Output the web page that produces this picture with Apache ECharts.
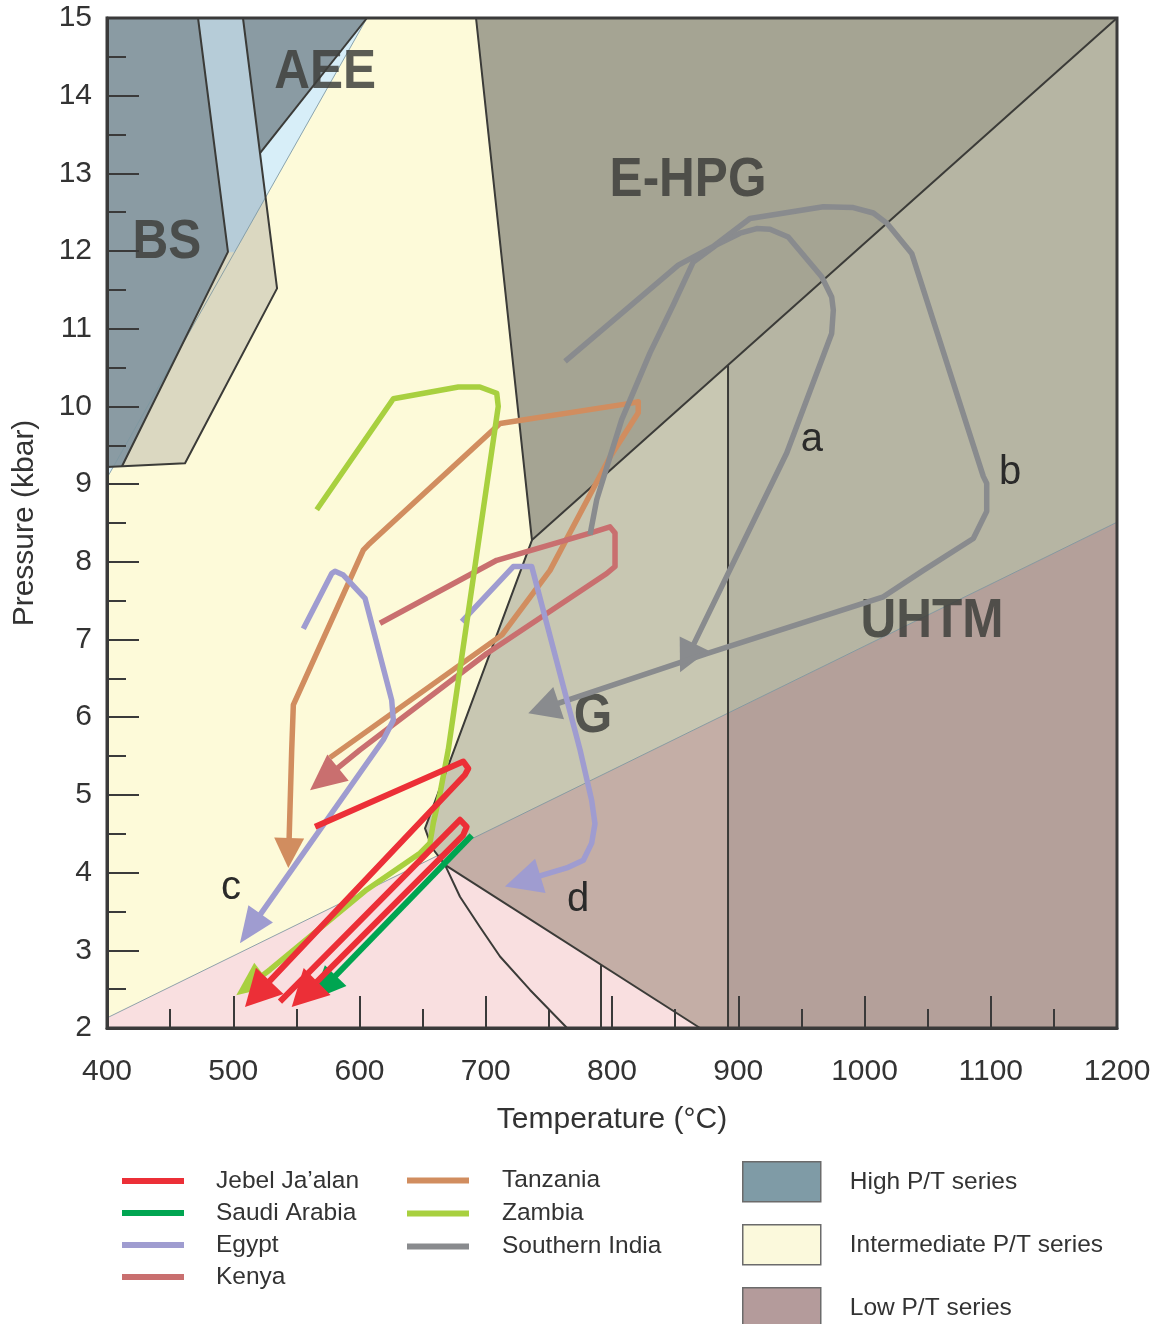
<!DOCTYPE html>
<html><head><meta charset="utf-8">
<script src="https://cdn.jsdelivr.net/npm/echarts@6/dist/echarts.min.js"></script>
<style>html,body{margin:0;padding:0;background:#fff}#c{width:1158px;height:1324px}</style>
</head><body><div id="c"></div>
<script>
const FONT = '"Liberation Sans", Arial, Helvetica, sans-serif';

// ---- axis ranges (°C, kbar) ----
const tempRange = [400, 1200];
const presRange = [2, 15];

// ---- facies fields, vertices as [T (°C), P (kbar)] ----
const intermediateRegion = [[400,2],[1200,2],[1200,15],[400,15]];
const highPTOverlay = [[400,15],[605.9,15],[400,9.08]];
const transitionBand = [[525.6,12.69],[534.7,11.52],[461.8,9.27],[411.9,9.23],[495.8,11.99],[501.2,11.99]];
const lightBlueBand = [[472.1,15],[507.7,15],[525.6,12.69],[501.2,11.99],[495.8,11.99]];
const bsRegion = [[400,15],[472.1,15],[495.8,11.99],[411.9,9.23],[400,9.23]];
const aeeRegion = [[507.7,15],[605.9,15],[521.2,13.26]];
const ehpgRegion = [[692.3,15],[1200,15],[736.6,8.28]];
const gRegion = [[736.6,8.28],[891.9,10.53],[891.9,6.05],[662.1,4.22],[657.4,4.32],[651.9,4.57]];
const gUhtmRegion = [[891.9,10.53],[1200,15],[1200,8.51],[891.9,6.05]];
const lowPinkRegion = [[400,2],[400,2.13],[662.1,4.22],[667.7,4.10],[869.7,2]];
const lowBrownRegion = [[662.1,4.22],[891.9,6.05],[891.9,2],[869.7,2],[667.7,4.10]];
const lowUhtmRegion = [[891.9,6.05],[1200,8.51],[1200,2],[891.9,2]];

// ---- boundary lines ----
const faintLines = [
  [[400,2.13],[1200,8.51]],
  [[605.9,15],[400,9.08]]
];
const darkLines = [
  [[692.3,15],[736.6,8.28],[651.9,4.57],[657.4,4.32],[667.7,4.10]],
  [[736.6,8.28],[1200,15]],
  [[891.9,10.53],[891.9,2]],
  [[667.7,4.10],[869.7,2]],
  [[667.7,4.10],[679.6,3.69],[695.4,3.30],[711.3,2.92],[735.1,2.49],[764.4,2]],
  [[791.3,2.81],[791.3,2]],
  [[472.1,15],[495.8,11.99],[411.9,9.23]],
  [[507.7,15],[534.7,11.52],[461.8,9.27],[400,9.22]],
  [[605.9,15],[521.2,13.26]]
];

// ---- P-T paths [T, P]; last point = arrow tip ----
const pathJebel1 = [[564.8,4.59],[682.2,5.43],[686.2,5.34],[683.6,5.26],[509.3,2.27]];
const pathJebel2 = [[537.0,2.34],[679.6,4.68],[684.9,4.59],[682.0,4.48],[546.3,2.27]];
const pathSaudi = [[688.9,4.48],[562.4,2.36]];
const pathEgyptC = [[555.5,7.14],[578.0,7.85],[580.6,7.88],[587.2,7.83],[604.4,7.53],[625.5,6.22],[626.8,5.96],[618.9,5.71],[505.3,3.09]];
const pathEgyptD = [[681.0,7.23],[721.8,7.94],[736.4,7.94],[774.7,5.58],[783.9,4.93],[786.5,4.63],[783.9,4.38],[777.3,4.16],[764.1,4.06],[745.6,3.97],[715.2,3.82]];
const pathKenya = [[616.2,7.21],[708.7,8.02],[782.6,8.37],[798.4,8.45],[802.4,8.37],[802.4,7.94],[795.8,7.85],[700.8,6.82],[600.4,5.58],[560.8,5.06]];
const pathTanzania = [[576.6,5.48],[712.9,7.06],[750.9,7.89],[798.4,9.35],[820.8,9.92],[820.8,10.06],[814.3,10.04],[711.3,9.78],[607.0,8.22],[603.0,8.15],[547.6,6.16],[546.3,5.58],[543.6,4.06]];
const pathZambia = [[566.1,8.67],[626.8,10.10],[678.3,10.25],[695.4,10.25],[708.7,10.17],[709.9,10.00],[670.3,5.58],[663.8,5.02],[658.5,4.64],[655.8,4.38],[647.9,4.25],[605.7,3.78],[529.1,2.75],[502.4,2.42]];
const pathIndiaA = [[782.6,8.35],[787.9,8.80],[798.4,9.35],[807.7,9.83],[830.1,10.69],[848.6,11.31],[864.4,11.86],[882.9,12.08],[901.4,12.23],[914.6,12.29],[925.1,12.28],[939.6,12.18],[966.1,11.67],[974.0,11.41],[975.3,11.24],[974.0,10.94],[938.4,9.40],[853.9,6.58]];
const pathIndiaB = [[762.8,10.58],[852.5,11.82],[880.2,12.06],[909.3,12.42],[967.4,12.57],[991.1,12.56],[1007.0,12.49],[1017.6,12.36],[1037.4,11.97],[1094.1,9.10],[1096.8,9.01],[1096.8,8.65],[1086.2,8.30],[1046.6,7.89],[1014.9,7.55],[875.0,6.82],[761.4,6.20],[733.7,6.05]];

// ---- labels ----
const regionLabels = ['BS','AEE','E-HPG','UHTM','G'];
const regionLabelPos = [[447.5,12.10],[572.7,14.30],[860.2,12.91],[1053.5,7.23],[785.0,6.00]];
const pathLabels = ['a','b','c','d'];
const pathLabelPos = [[958.4,9.57],[1115.3,9.14],[498.2,3.80],[773.1,3.65]];

// ---- legend ----
const legendPaths1 = ['Jebel Ja\u2019alan','Saudi Arabia','Egypt','Kenya'];
const legendPaths2 = ['Tanzania','Zambia','Southern India'];
const legendRegions = ['High P/T series','Intermediate P/T series','Low P/T series'];

const pathColors = {
  'Jebel Ja\u2019alan':'#ec2f37','Saudi Arabia':'#00a551','Egypt':'#9f9cd0','Kenya':'#c96f6f',
  'Tanzania':'#d18d5f','Zambia':'#a8d03f','Southern India':'#898b8e'
};
const regionLegendColors = {'High P/T series':'#7f9ba6','Intermediate P/T series':'#fbf9dc','Low P/T series':'#b49b9b'};

function polySeries(name, pts, fill, z) {
  return {
    type:'custom', name: name, coordinateSystem:'cartesian2d', data: pts, encode:{x:0,y:1},
    z: z, silent:true, itemStyle:{color: fill}, animation:false,
    renderItem: function(params, api) {
      if (params.dataIndex !== 0) return null;
      return {type:'polygon', shape:{points: pts.map(function(p){return api.coord(p);})},
              style:{fill: fill, stroke: fill, lineWidth: 0.6}};
    }
  };
}
function lineSeries(pts, color, width, z) {
  return {
    type:'custom', coordinateSystem:'cartesian2d', data: pts, encode:{x:0,y:1},
    z: z, silent:true, animation:false,
    renderItem: function(params, api) {
      if (params.dataIndex !== 0) return null;
      return {type:'polyline', shape:{points: pts.map(function(p){return api.coord(p);})},
              style:{stroke: color, lineWidth: width, fill:'none', lineJoin:'round'}};
    }
  };
}
function pathSeries(name, pts, opt) {
  opt = opt || {};
  const color = pathColors[name];
  const w = opt.width || 5.5, al = opt.aLen || 36, aw = opt.aWid || 32;
  return {
    type:'custom', name: name, coordinateSystem:'cartesian2d', data: pts, encode:{x:0,y:1},
    z: opt.z || 20, silent:true, itemStyle:{color: color}, animation:false,
    renderItem: function(params, api) {
      if (params.dataIndex !== 0) return null;
      const c = pts.map(function(p){return api.coord(p);});
      const n = c.length, tip = c[n-1], prev = c[n-2];
      let dx = tip[0]-prev[0], dy = tip[1]-prev[1];
      const L = Math.hypot(dx, dy); dx /= L; dy /= L;
      const bx = tip[0]-dx*al, by = tip[1]-dy*al;
      const line = c.slice(); line[n-1] = [bx+dx*3, by+dy*3];
      return {type:'group', children:[
        {type:'polyline', shape:{points: line}, style:{stroke: color, lineWidth: w, fill:'none', lineJoin:'round', lineCap:'butt'}},
        {type:'polygon', shape:{points:[tip,[bx-dy*aw/2, by+dx*aw/2],[bx+dy*aw/2, by-dx*aw/2]]}, style:{fill: color}}
      ]};
    }
  };
}
function textSeries(pos, texts, style, scaleX, z) {
  return {
    type:'custom', coordinateSystem:'cartesian2d', data: pos, encode:{x:0,y:1}, z: z, silent:true, animation:false,
    renderItem: function(params, api) {
      const p = api.coord(pos[params.dataIndex]);
      return {type:'text', x: p[0], y: p[1], scaleX: scaleX,
        style: Object.assign({text: texts[params.dataIndex], align:'center', verticalAlign:'middle', fontFamily: FONT}, style)};
    }
  };
}

const series = [];
series.push(polySeries('Intermediate P/T series', intermediateRegion, '#fdfad9', 1));
series.push(polySeries('hp-overlay', highPTOverlay, '#d7eef8', 2));
series.push(polySeries('transition', transitionBand, '#dbd8c1', 2));
series.push(polySeries('band', lightBlueBand, '#b6ccd8', 2));
series.push(polySeries('High P/T series', bsRegion, '#8a9ba3', 2));
series.push(polySeries('aee', aeeRegion, '#8a9ba3', 2));
series.push(polySeries('ehpg', ehpgRegion, '#a5a493', 2));
series.push(polySeries('g', gRegion, '#c8c7b2', 2));
series.push(polySeries('g-uhtm', gUhtmRegion, '#b6b5a3', 2));
series.push(polySeries('low-pink', lowPinkRegion, '#f9dfe0', 2));
series.push(polySeries('low-brown', lowBrownRegion, '#c4aea6', 2));
series.push(polySeries('Low P/T series', lowUhtmRegion, '#b4a09a', 2));
faintLines.forEach(function(l){ series.push(lineSeries(l, 'rgba(125,150,160,0.85)', 1, 3)); });
darkLines.forEach(function(l){ series.push(lineSeries(l, '#3b3b38', 2, 3)); });
series.push(textSeries(regionLabelPos, regionLabels, {fontSize:55, fontWeight:'bold', fill:'rgba(62,64,60,0.85)'}, 0.9, 4));
series.push(pathSeries('Tanzania', pathTanzania, {aLen:30, aWid:30}));
series.push(pathSeries('Kenya', pathKenya, {aLen:36, aWid:34}));
series.push(pathSeries('Southern India', pathIndiaA, {aLen:32, aWid:32}));
series.push(pathSeries('Southern India', pathIndiaB, {aLen:32, aWid:34}));
series.push(pathSeries('Egypt', pathEgyptC, {aLen:36, aWid:30}));
series.push(pathSeries('Egypt', pathEgyptD, {aLen:37, aWid:36}));
series.push(pathSeries('Zambia', pathZambia, {aLen:34, aWid:30}));
series.push(pathSeries('Saudi Arabia', pathSaudi, {aLen:34, aWid:30, width:6}));
series.push(pathSeries('Jebel Ja\u2019alan', pathJebel1, {aLen:36, aWid:38, width:6}));
series.push(pathSeries('Jebel Ja\u2019alan', pathJebel2, {aLen:36, aWid:38, width:6}));
series.push(textSeries(pathLabelPos, pathLabels, {fontSize:40, fill:'#2a2a2a'}, 1, 30));

const axisCommon = {
  type:'value', z:10,
  nameLocation:'middle', nameMoveOverlap:false,
  nameTextStyle:{fontSize:30, color:'#333', fontFamily:FONT},
  axisLine:{show:true, onZero:false, lineStyle:{color:'#3a3a3a', width:3}},
  axisTick:{show:true, inside:true, length:32, lineStyle:{color:'#3a3a3a', width:2}},
  minorTick:{show:true, splitNumber:2, length:19, lineStyle:{color:'#3a3a3a', width:2}},
  splitLine:{show:false}, minorSplitLine:{show:false}
};
const plainNum = function(v){ return String(v); };

function regionLegend(name, top) {
  return {selectedMode:false, orient:'vertical', left:742, top: top, padding:0, itemWidth:78, itemHeight:40, itemGap:0, icon:'rect',
    textStyle:{fontSize:24.5, color:'#333', fontFamily:FONT, padding:[0,0,0,24]},
    data:[{name: name, itemStyle:{color: regionLegendColors[name], borderColor:'#6b6b6b', borderWidth:1.5}}]};
}

const option = {
  animation:false,
  backgroundColor:'#ffffff',
  grid:{left:107, right:41, top:18, bottom:296, show:true, borderColor:'#3a3a3a', borderWidth:3, backgroundColor:'transparent', z:10, containLabel:false, outerBoundsMode:'none'},
  xAxis: Object.assign({}, axisCommon, {
    min: tempRange[0], max: tempRange[1], interval:100,
    name:'Temperature (\u00B0C)', nameGap:77,
    axisLabel:{fontSize:30, color:'#333', margin:29, fontFamily:FONT, showMinLabel:true, showMaxLabel:true, hideOverlap:false, formatter: plainNum}
  }),
  yAxis: Object.assign({}, axisCommon, {
    min: presRange[0], max: presRange[1], interval:1,
    name:'Pressure (kbar)', nameGap:67,
    axisLabel:{fontSize:30, color:'#333', margin:15, fontFamily:FONT, showMinLabel:true, showMaxLabel:true, hideOverlap:false, formatter: plainNum}
  }),
  legend:[
    {selectedMode:false, orient:'vertical', left:122, top:1165, padding:0, itemWidth:62, itemHeight:6, itemGap:0, icon:'rect',
     textStyle:{fontSize:24.5, lineHeight:32, color:'#333', fontFamily:FONT, padding:[0,0,0,27]},
     data: legendPaths1.map(function(n){return {name:n, itemStyle:{color:pathColors[n]}};})},
    {selectedMode:false, orient:'vertical', left:407, top:1164, padding:0, itemWidth:62, itemHeight:6, itemGap:0, icon:'rect',
     textStyle:{fontSize:24.5, lineHeight:33, color:'#333', fontFamily:FONT, padding:[0,0,0,28]},
     data: legendPaths2.map(function(n){return {name:n, itemStyle:{color:pathColors[n]}};})},
    regionLegend(legendRegions[0], 1161),
    regionLegend(legendRegions[1], 1224),
    regionLegend(legendRegions[2], 1287)
  ],
  series: series
};

const chart = echarts.init(document.getElementById('c'), null, {renderer:'canvas'});
chart.setOption(option);
</script>
</body></html>
